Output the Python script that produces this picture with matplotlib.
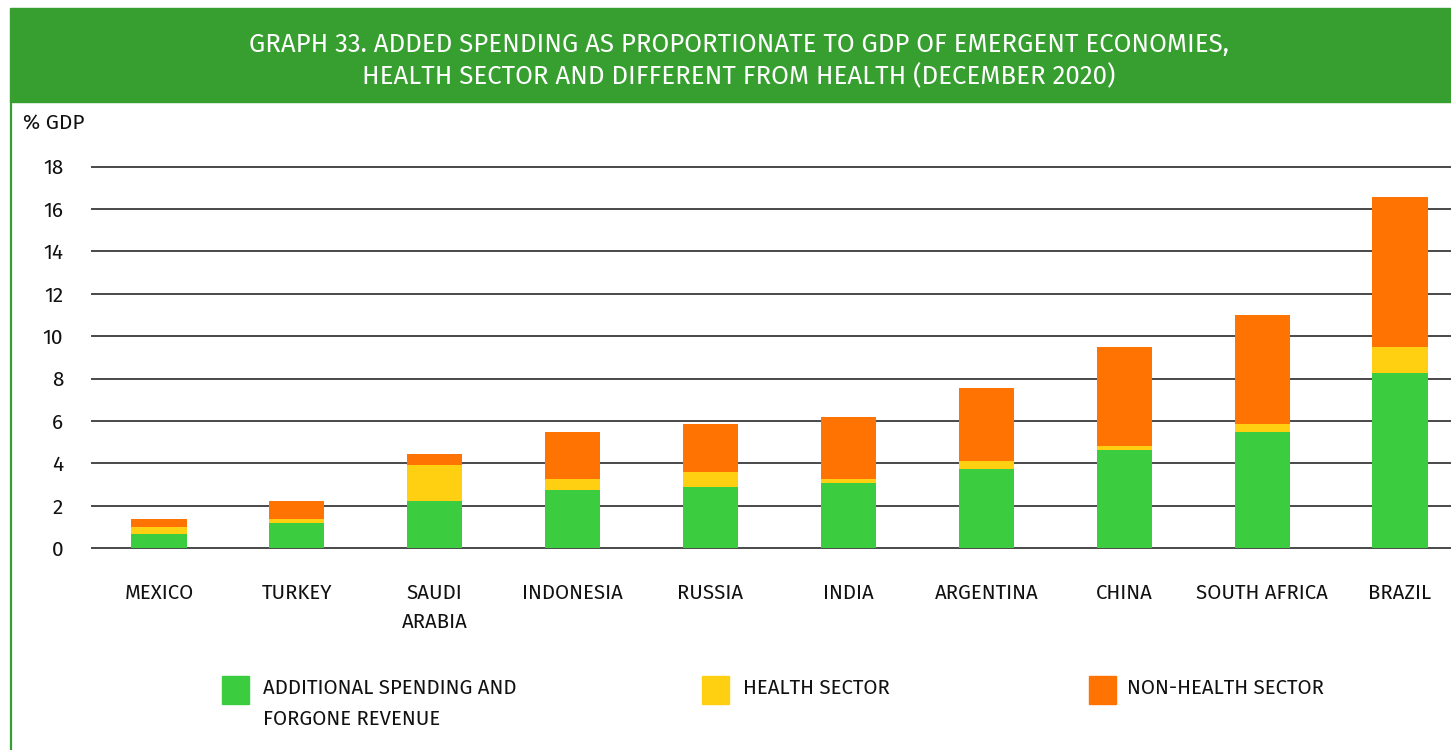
import numpy as np
import matplotlib
matplotlib.use("Agg")
import matplotlib.pyplot as plt
from matplotlib.patches import Rectangle
from matplotlib.lines import Line2D

# data (% of GDP)
countries = ["MEXICO", "TURKEY", "SAUDI\nARABIA", "INDONESIA", "RUSSIA",
             "INDIA", "ARGENTINA", "CHINA", "SOUTH AFRICA", "BRAZIL"]
additional = [0.66, 1.18, 2.22, 2.74, 2.91, 3.09, 3.75, 4.64, 5.50, 8.25]
health = [0.36, 0.19, 1.72, 0.53, 0.70, 0.19, 0.38, 0.19, 0.35, 1.23]
non_health = [0.35, 0.86, 0.52, 2.23, 2.24, 2.91, 3.43, 4.65, 5.17, 7.08]
yticks = [0, 2, 4, 6, 8, 10, 12, 14, 16, 18]
legend_labels = ["ADDITIONAL SPENDING AND\nFORGONE REVENUE", "HEALTH SECTOR", "NON-HEALTH SECTOR"]

c_green = "#3BCC3F"
c_yellow = "#FFD012"
c_orange = "#FF7303"
c_banner = "#369F2F"

fira = ["Fira Sans", "Lato", "DejaVu Sans"]

W, H = 1451, 750
fig = plt.figure(figsize=(W / 100, H / 100), dpi=100)

# title banner and left border
fig.patches.append(Rectangle((10 / W, 1 - 102 / H), 1 - 10 / W, 94 / H,
                             transform=fig.transFigure, color=c_banner, zorder=0))
fig.lines.append(Line2D([10.5 / W, 10.5 / W], [0, 1 - 102 / H], transform=fig.transFigure,
                        color=c_banner, lw=1.6))
fig.text(739 / W, 1 - 61 / H,
         "GRAPH 33. ADDED SPENDING AS PROPORTIONATE TO GDP OF EMERGENT ECONOMIES,\n"
         "HEALTH SECTOR AND DIFFERENT FROM HEALTH (DECEMBER 2020)",
         ha="center", va="center", color="white", fontsize=18.6, family=fira,
         linespacing=1.3)

ax = fig.add_axes([91 / W, 0.2633, 1 - 91 / W, 0.5201])
x = np.arange(len(countries))
bw = 0.40
bottom2 = np.array(additional)
bottom3 = bottom2 + np.array(health)
ax.bar(x, additional, bw, color=c_green, zorder=3)
ax.bar(x, health, bw, bottom=bottom2, color=c_yellow, zorder=3)
ax.bar(x, non_health, bw, bottom=bottom3, color=c_orange, zorder=3)

for t in yticks:
    ax.axhline(t, color="#3a3a3a", lw=1.3, zorder=1)

ax.set_xlim(-68 / 137.9, 9 + 51 / 137.9)
ax.set_ylim(-0.2, 18.2)
ax.set_yticks(yticks)
ax.set_yticklabels([str(t) for t in yticks], fontsize=15, family=fira, color="#111111")
ax.set_xticks(x)
ax.set_xticklabels(countries, fontsize=14.7, family=fira, color="#111111",
                   linespacing=1.6, va="top")
ax.tick_params(axis="both", length=0)
ax.tick_params(axis="y", pad=20)
ax.tick_params(axis="x", pad=22.5)
for s in ax.spines.values():
    s.set_visible(False)

fig.text(23 / W, 1 - 124 / H, "% GDP", fontsize=15, family=fira, va="center", color="#111111")

# legend
leg_colors = [c_green, c_yellow, c_orange]
leg_sq_x = [222, 702, 1089]
leg_txt_x = [263, 743, 1127]
for cx, tx, col, lab in zip(leg_sq_x, leg_txt_x, leg_colors, legend_labels):
    fig.patches.append(Rectangle((cx / W, 1 - 704 / H), 27 / W, 28 / H,
                                 transform=fig.transFigure, color=col))
    fig.text(tx / W, 1 - 679 / H, lab, fontsize=14.7, family=fira, va="top",
             color="#111111", linespacing=1.7)

fig.savefig("out.png", dpi=100)
